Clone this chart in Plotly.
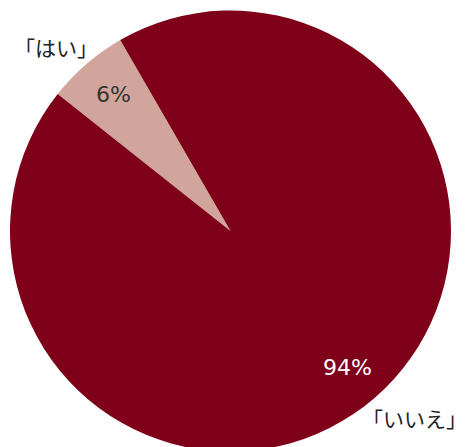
import math
import plotly.graph_objects as go

# Survey answers and their shares (percent)
labels = ["「はい」", "「いいえ」"]
values = [6, 94]
colors = ["#d2a59c", "#7e0019"]
pct_text_colors = ["#333333", "#ffffff"]

W, H = 469, 452
CX, CY, R = 230.5, 231.0, 220.5   # pie centre and radius in pixels
ROTATION = -51.6                  # start angle of the first slice (clockwise from 12 o'clock)

fig = go.Figure(
    go.Pie(
        labels=labels,
        values=values,
        sort=False,
        direction="clockwise",
        rotation=ROTATION,
        marker=dict(colors=colors, line=dict(width=0)),
        textinfo="none",
        hoverinfo="label+percent",
        showlegend=False,
        domain=dict(
            x=[(CX - R) / W, (CX + R) / W],
            y=[max(0.0, (H - CY - R) / H), (H - CY + R) / H],
        ),
    )
)

# percentage labels placed along each slice's middle angle
total = sum(values)
start = ROTATION
annotations = []
for v, c in zip(values, pct_text_colors):
    span = 360.0 * v / total
    mid = math.radians(start + span / 2)
    start += span
    px = CX + 0.815 * R * math.sin(mid)
    py = CY - 0.815 * R * math.cos(mid)
    annotations.append(dict(
        x=px / W, y=1 - py / H, xref="paper", yref="paper",
        text=f"{v}%", showarrow=False, xanchor="center", yanchor="middle",
        font=dict(family="DejaVu Sans, sans-serif", size=22, color=c),
    ))

# category labels outside the pie
label_font = dict(family="Noto Sans CJK JP, sans-serif", size=21, color="#222222")
annotations.append(dict(
    x=56 / W, y=1 - 47 / H, xref="paper", yref="paper",
    text=labels[0], showarrow=False, xanchor="center", yanchor="middle",
    font=label_font,
))
annotations.append(dict(
    x=1.0, y=1 - 418 / H, xref="paper", yref="paper",
    text=labels[1], showarrow=False, xanchor="right", yanchor="middle",
    font=label_font,
))

fig.update_layout(
    width=W, height=H,
    margin=dict(l=0, r=0, t=0, b=0),
    paper_bgcolor="white",
    plot_bgcolor="white",
    annotations=annotations,
)

fig.write_html(
    "out.html",
    post_script="document.body.style.margin='0';"
                "document.body.style.overflow='hidden';"
                "document.documentElement.style.overflow='hidden';",
)
